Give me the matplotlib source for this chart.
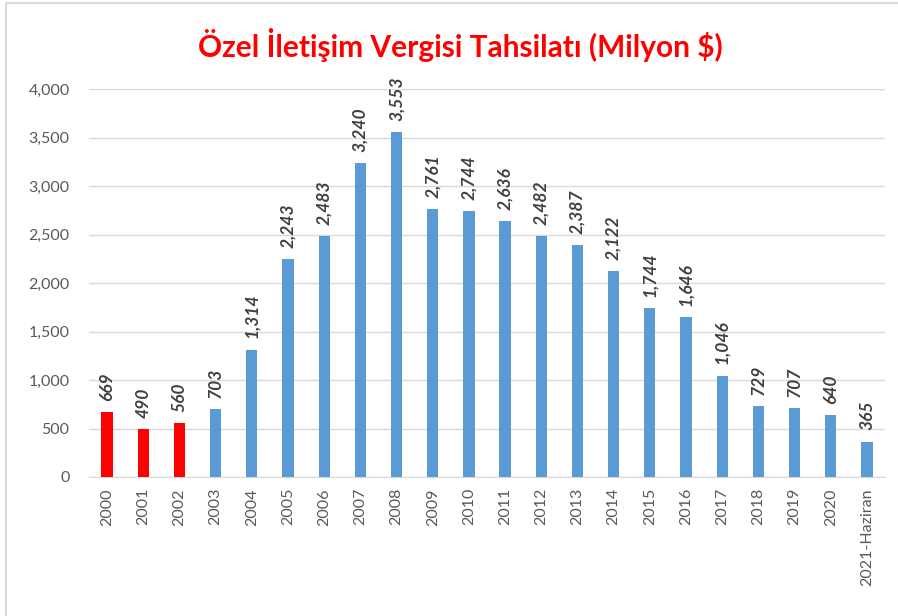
import matplotlib.pyplot as plt
from matplotlib.patches import Rectangle

years = ['2000', '2001', '2002', '2003', '2004', '2005', '2006', '2007', '2008', '2009', '2010',
         '2011', '2012', '2013', '2014', '2015', '2016', '2017', '2018', '2019', '2020', '2021-Haziran']
values = [669, 490, 560, 703, 1314, 2243, 2483, 3240, 3553, 2761, 2744,
          2636, 2482, 2387, 2122, 1744, 1646, 1046, 729, 707, 640, 365]
red_years = ['2000', '2001', '2002']

plt.rcParams['font.family'] = ['Lato', 'DejaVu Sans']

fig = plt.figure(figsize=(8.98, 6.16), dpi=100)
ax = fig.add_axes([89/898, 1-477/616, 796/898, 388/616])

x = list(range(len(years)))
colors = ['#FF0000' if y in red_years else '#5B9BD5' for y in years]
ax.bar(x, values, width=0.31, color=colors, zorder=3)

for i, v in enumerate(values):
    ax.annotate(f'{v:,}', (x[i], v), xytext=(0, 8), textcoords='offset points',
                rotation=90, ha='center', va='bottom', fontsize=12.5,
                fontweight='bold', fontstyle='italic', color='#404040')

ax.set_xlim(-0.5, len(years) - 0.5)
ax.set_ylim(0, 4000)
ax.set_yticks(range(0, 4001, 500))
ax.set_yticklabels([f'{t:,}' for t in range(0, 4001, 500)])
ax.set_xticks(x)
ax.set_xticklabels(years, rotation=90)
ax.tick_params(axis='both', length=0, colors='#595959', labelsize=11.5)
ax.tick_params(axis='y', pad=14)
ax.tick_params(axis='x', pad=8)
ax.grid(axis='y', color='#D9D9D9', linewidth=1, zorder=0)
for s in ['top', 'right', 'left']:
    ax.spines[s].set_visible(False)
ax.spines['bottom'].set_color('#D9D9D9')

fig.text(460/898, 1-45/616, 'Özel İletişim Vergisi Tahsilatı (Milyon $)', ha='center', va='center',
         fontsize=21.5, fontweight='bold', color='#FF0000')

fig.patches.append(Rectangle((6/898, -0.1), 1.1, 1 - 3/616 + 0.1, transform=fig.transFigure,
                             fill=False, edgecolor='#D9D9D9', linewidth=1.5))

fig.savefig('out.png', dpi=100)
